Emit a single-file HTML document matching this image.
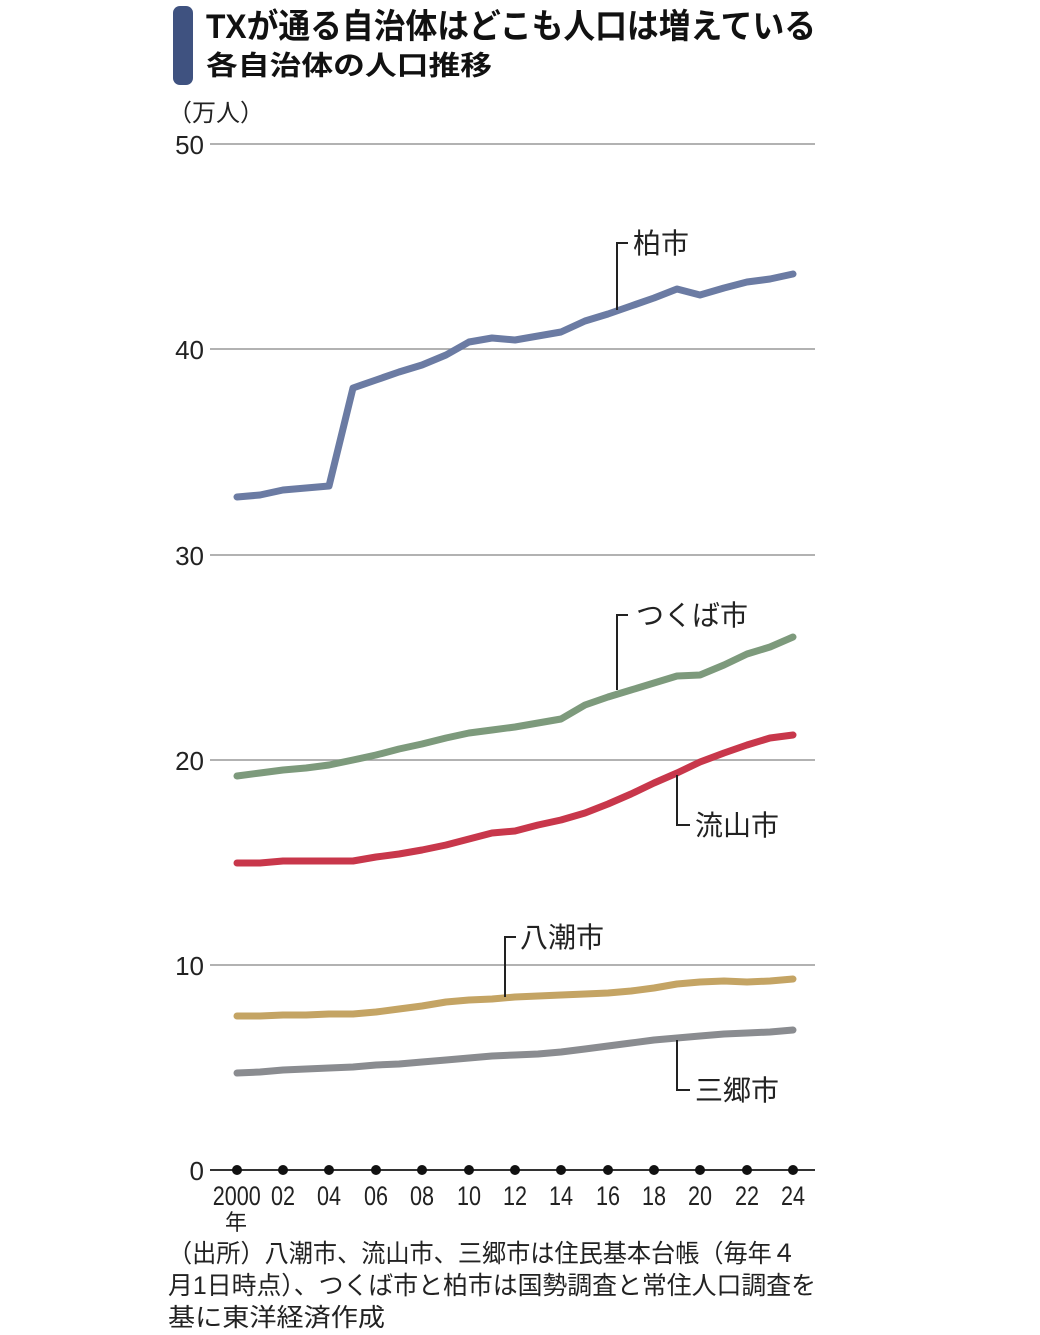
<!DOCTYPE html>
<html><head><meta charset="utf-8"><style>
html,body{margin:0;padding:0;background:#fff;}
svg{display:block;font-family:"Liberation Sans","Noto Sans CJK JP",sans-serif;}
</style></head><body>
<svg width="1040" height="1335" viewBox="0 0 1040 1335">
<rect x="173" y="6" width="20" height="79" rx="7" fill="#3f5280"/>
<text x="206" y="38" font-size="34" font-weight="bold" fill="#111" textLength="610" lengthAdjust="spacingAndGlyphs">TXが通る自治体はどこも人口は増えている</text>
<text x="206" y="75" font-size="27" font-weight="bold" fill="#111" textLength="286" lengthAdjust="spacingAndGlyphs">各自治体の人口推移</text>
<text x="168" y="121" font-size="24" fill="#222">（万人）</text>
<g stroke="#999" stroke-width="1.5">
<line x1="210" y1="144" x2="815" y2="144"/><line x1="210" y1="349" x2="815" y2="349"/>
<line x1="210" y1="555" x2="815" y2="555"/><line x1="210" y1="760" x2="815" y2="760"/>
<line x1="210" y1="965" x2="815" y2="965"/>
</g>
<line x1="210" y1="1170" x2="815" y2="1170" stroke="#333" stroke-width="2"/>
<g font-size="26" fill="#222" text-anchor="end">
<text x="204" y="154">50</text><text x="204" y="359">40</text><text x="204" y="565">30</text>
<text x="204" y="770">20</text><text x="204" y="975">10</text><text x="204" y="1180">0</text>
</g>
<g fill="#111">
<circle cx="237" cy="1170" r="5"/><circle cx="283" cy="1170" r="5"/><circle cx="329" cy="1170" r="5"/><circle cx="376" cy="1170" r="5"/><circle cx="422" cy="1170" r="5"/><circle cx="469" cy="1170" r="5"/><circle cx="515" cy="1170" r="5"/><circle cx="561" cy="1170" r="5"/><circle cx="608" cy="1170" r="5"/><circle cx="654" cy="1170" r="5"/><circle cx="700" cy="1170" r="5"/><circle cx="747" cy="1170" r="5"/><circle cx="793" cy="1170" r="5"/>
</g>
<g font-size="27" fill="#222" text-anchor="middle" transform="scale(0.8,1)">
<text x="296" y="1205">2000</text><text x="353.7" y="1205">02</text><text x="411.2" y="1205">04</text><text x="470" y="1205">06</text><text x="527.5" y="1205">08</text><text x="586.2" y="1205">10</text><text x="643.7" y="1205">12</text><text x="701.2" y="1205">14</text><text x="760" y="1205">16</text><text x="817.5" y="1205">18</text><text x="875" y="1205">20</text><text x="933.7" y="1205">22</text><text x="991.2" y="1205">24</text>
</g>
<text x="236" y="1230" font-size="22" fill="#222" text-anchor="middle">年</text>
<g font-size="25" fill="#222">
<text x="168" y="1262" textLength="628" lengthAdjust="spacingAndGlyphs">（出所）八潮市、流山市、三郷市は住民基本台帳（毎年４</text>
<text x="168" y="1294" textLength="648" lengthAdjust="spacingAndGlyphs">月1日時点）、つくば市と柏市は国勢調査と常住人口調査を</text>
<text x="168" y="1326" textLength="217" lengthAdjust="spacingAndGlyphs">基に東洋経済作成</text>
</g>
<g fill="none" stroke-width="7" stroke-linejoin="round" stroke-linecap="round">
<polyline stroke="#6b7ba3" points="237,497 260,495 283,490 306,488 329,486 353,388 376,380 399,372 422,365 446,355 469,342 492,338 515,340 538,336 561,332 585,321 608,314 631,306 654,298 677,289 700,295 724,288 747,282 770,279 793,274"/>
<polyline stroke="#7d9a7c" points="237,776 260,773 283,770 306,768 329,765 353,760 376,755 399,749 422,744 446,738 469,733 492,730 515,727 538,723 561,719 585,705 608,697 631,690 654,683 677,676 700,675 724,665 747,654 770,647 793,637"/>
<polyline stroke="#c8374b" points="237,863 260,863 283,861 306,861 329,861 353,861 376,857 399,854 422,850 446,845 469,839 492,833 515,831 538,825 561,820 585,813 608,804 631,794 654,783 677,773 700,762 724,753 747,745 770,738 793,735"/>
<polyline stroke="#c4a464" points="237,1016 260,1016 283,1015 306,1015 329,1014 353,1014 376,1012 399,1009 422,1006 446,1002 469,1000 492,999 515,997 538,996 561,995 585,994 608,993 631,991 654,988 677,984 700,982 724,981 747,982 770,981 793,979"/>
<polyline stroke="#8a8c90" points="237,1073 260,1072 283,1070 306,1069 329,1068 353,1067 376,1065 399,1064 422,1062 446,1060 469,1058 492,1056 515,1055 538,1054 561,1052 585,1049 608,1046 631,1043 654,1040 677,1038 700,1036 724,1034 747,1033 770,1032 793,1030"/>
</g>
<g fill="none" stroke="#222" stroke-width="2">
<polyline points="617,310 617,243 628,243"/>
<polyline points="617,690 617,615 628,615"/>
<polyline points="677,775 677,825 690,825"/>
<polyline points="505,997 505,937 516,937"/>
<polyline points="677,1040 677,1090 690,1090"/>
</g>
<g font-size="28" fill="#222">
<text x="633" y="253">柏市</text>
<text x="636" y="625">つくば市</text>
<text x="695" y="835">流山市</text>
<text x="520" y="947">八潮市</text>
<text x="695" y="1100">三郷市</text>
</g>
</svg>
</body></html>
